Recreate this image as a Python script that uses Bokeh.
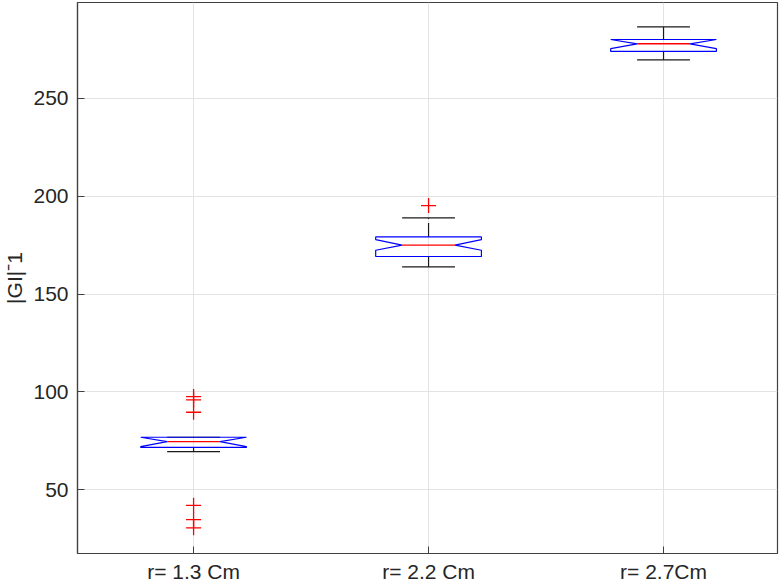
import numpy as np
from bokeh.plotting import figure
from bokeh.models import Range1d, FixedTicker, ColumnDataSource
from bokeh.embed import file_html
from bokeh.resources import INLINE

# Box plot statistics per group
categories = ["r= 1.3 Cm", "r= 2.2 Cm", "r= 2.7Cm"]
positions = [1, 2, 3]
q1 = [71.6, 169.2, 274.0]
median = [74.6, 175.0, 277.9]
q3 = [76.8, 179.2, 280.1]
whisker_lo = [69.5, 163.9, 269.7]
whisker_hi = [76.8, 188.9, 286.5]
notch_lo = [72.0, 172.4, 275.4]
notch_hi = [76.8, 177.8, 280.1]
outlier_group = [1, 1, 1, 1, 1, 1, 2]
outlier_value = [97.6, 95.9, 89.6, 42.0, 34.7, 30.5, 195.2]
y_ticks = [50, 100, 150, 200, 250]

FONT = "Liberation Sans"
TEXT = "#262626"
half_w = 0.225        # half box width
notch_in = 0.1125     # notch depth
cap_half = 0.1125     # half whisker cap width

p = figure(width=779, height=585, output_backend="svg", toolbar_location=None,
           x_range=Range1d(0.506, 3.485), y_range=Range1d(17.4, 299.0),
           min_border_left=77, min_border_right=2, min_border_top=2,
           min_border_bottom=31)

p.background_fill_color = "white"
p.border_fill_color = "white"
p.outline_line_color = "#404040"
p.outline_line_width = 1.2

for ax in (p.xaxis, p.yaxis):
    ax.axis_line_color = "#404040"
    ax.axis_line_width = 1.2
    ax.major_tick_line_color = "#404040"
    ax.major_tick_in = 7
    ax.major_tick_out = 0
    ax.minor_tick_line_color = None
    ax.major_label_text_font = FONT
    ax.major_label_text_font_size = "21px"
    ax.major_label_text_color = TEXT

p.xaxis.ticker = FixedTicker(ticks=positions)
p.xaxis.major_label_overrides = {pos: c for pos, c in zip(positions, categories)}
p.xaxis.major_label_standoff = 6
p.yaxis.ticker = FixedTicker(ticks=y_ticks)
p.yaxis.major_label_standoff = 9
p.yaxis.axis_label = "|GI|ˉ1"
p.yaxis.axis_label_text_font = FONT
p.yaxis.axis_label_text_font_size = "21px"
p.yaxis.axis_label_text_font_style = "normal"
p.yaxis.axis_label_text_color = TEXT
p.yaxis.axis_label_standoff = 4

p.xgrid.grid_line_color = "#e3e3e3"
p.ygrid.grid_line_color = "#e3e3e3"

pos = np.array(positions, dtype=float)
q1a, meda, q3a = np.array(q1), np.array(median), np.array(q3)
nlo, nhi = np.array(notch_lo), np.array(notch_hi)
wlo, whi = np.array(whisker_lo), np.array(whisker_hi)

# whisker stems, drawn outward from the box edges
p.segment(x0=pos, y0=q3a, x1=pos, y1=whi, line_color="#1a1a1a",
          line_width=1.2, line_dash="14 4")
p.segment(x0=pos, y0=q1a, x1=pos, y1=wlo, line_color="#1a1a1a",
          line_width=1.2, line_dash="14 4")
# whisker caps
p.segment(x0=pos - cap_half, y0=whi, x1=pos + cap_half, y1=whi,
          line_color="#1a1a1a", line_width=1.2)
p.segment(x0=pos - cap_half, y0=wlo, x1=pos + cap_half, y1=wlo,
          line_color="#1a1a1a", line_width=1.2)

# notched box outlines
xs, ys = [], []
for x, a, m, b, lo, hi in zip(pos, q1a, meda, q3a, nlo, nhi):
    xs.append([x - half_w, x + half_w, x + half_w, x + half_w - notch_in,
               x + half_w, x + half_w, x - half_w, x - half_w,
               x - half_w + notch_in, x - half_w])
    ys.append([b, b, hi, m, lo, a, a, lo, m, hi])
p.patches(xs=xs, ys=ys, fill_color=None, line_color="#0000ff", line_width=1.2)

# medians
p.segment(x0=pos - half_w + notch_in, y0=meda, x1=pos + half_w - notch_in,
          y1=meda, line_color="#ff0000", line_width=1.4)

# outliers
src = ColumnDataSource(dict(x=outlier_group, y=outlier_value))
p.scatter(x="x", y="y", source=src, marker="cross", size=15,
          line_color="#ff0000", line_width=1.3)

open("out.html", "w").write(file_html(p, INLINE))
